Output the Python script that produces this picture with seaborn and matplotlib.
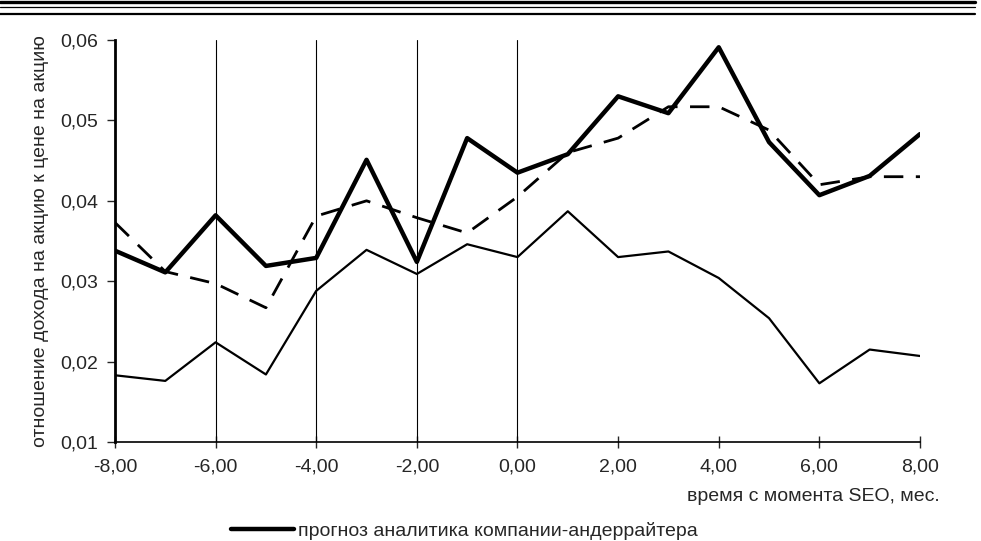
import matplotlib
matplotlib.use("Agg")
import matplotlib.pyplot as plt
from matplotlib.lines import Line2D
from matplotlib.ticker import FuncFormatter, MultipleLocator
import pandas as pd
import seaborn as sns

months = [-8, -7, -6, -5, -4, -3, -2, -1, 0, 1, 2, 3, 4, 5, 6, 7, 8]
underwriter = [0.0338, 0.0311, 0.0382, 0.0319, 0.0329, 0.0451, 0.0324, 0.0478, 0.0435,
               0.0458, 0.0530, 0.0509, 0.0591, 0.0473, 0.0407, 0.0431, 0.0483]
other = [0.0373, 0.0312, 0.0297, 0.0267, 0.0381, 0.0400, 0.0379, 0.0360, 0.0405,
         0.0460, 0.0478, 0.0517, 0.0517, 0.0488, 0.0420, 0.0430, 0.0430]
actual = [0.0183, 0.0176, 0.0224, 0.0184, 0.0288, 0.0339, 0.0309, 0.0346, 0.0330,
          0.0387, 0.0330, 0.0337, 0.0304, 0.0254, 0.0173, 0.0215, 0.0207]
grid_months = [-6, -4, -2, 0]
legend_label = "прогноз аналитика компании-андеррайтера"

df = pd.DataFrame({"month": months, "uw": underwriter, "other": other, "actual": actual})

sns.set_style("white")
plt.rcParams['font.family'] = ['Liberation Sans', 'DejaVu Sans']
plt.rcParams['font.size'] = 14

fig = plt.figure(figsize=(9.81, 5.41), dpi=100)
ax = fig.add_axes([0.1172, 0.183, 0.8206, 0.743])

# vertical reference lines
for m in grid_months:
    ax.axvline(m, color="black", lw=0.8, zorder=1)

sns.lineplot(data=df, x="month", y="actual", ax=ax, color="black", lw=1.6, zorder=3)
sns.lineplot(data=df, x="month", y="other", ax=ax, color="black", lw=2.0, zorder=3,
             dashes=False, linestyle=(0, (7, 4.5)))
sns.lineplot(data=df, x="month", y="uw", ax=ax, color="black", lw=3.2, zorder=4)

ax.set_xlim(-8, 8)
ax.set_ylim(0.01, 0.06)
ax.xaxis.set_major_locator(MultipleLocator(2))
ax.yaxis.set_major_locator(MultipleLocator(0.01))
fmt = FuncFormatter(lambda v, p: f"{v:.2f}".replace(".", ","))
ax.xaxis.set_major_formatter(fmt)
ax.yaxis.set_major_formatter(fmt)
ax.tick_params(axis="y", direction="out", length=6, width=1, left=True, pad=6, labelsize=14)
ax.tick_params(axis="x", direction="inout", length=8, width=1, bottom=True, pad=8, labelsize=14)

for s in ["top", "right"]:
    ax.spines[s].set_visible(False)
ax.spines["left"].set_linewidth(2)
ax.spines["bottom"].set_linewidth(1.2)
ax.spines["left"].set_color("black")
ax.spines["bottom"].set_color("black")

ax.set_xlabel("")
ax.set_ylabel("отношение дохода на акцию к цене на акцию", fontsize=14, labelpad=8)
fig.text(0.958, 0.083, "время с момента SEO, мес.", ha="right", va="center", fontsize=14)

handle = Line2D([], [], color="black", lw=3.2)
fig.legend([handle], [legend_label], loc="center left", bbox_to_anchor=(0.228, 0.019),
           frameon=False, fontsize=14, handlelength=3.2, handletextpad=0.2,
           borderaxespad=0)

# page header rules
fig.add_artist(Line2D([0, 0.994], [0.997, 0.997], transform=fig.transFigure, color="black", lw=2.4))
fig.add_artist(Line2D([0, 0.994], [0.987, 0.987], transform=fig.transFigure, color="black", lw=0.9))
fig.add_artist(Line2D([0, 0.994], [0.975, 0.975], transform=fig.transFigure, color="black", lw=1.6))

fig.savefig("out.png", dpi=100)
